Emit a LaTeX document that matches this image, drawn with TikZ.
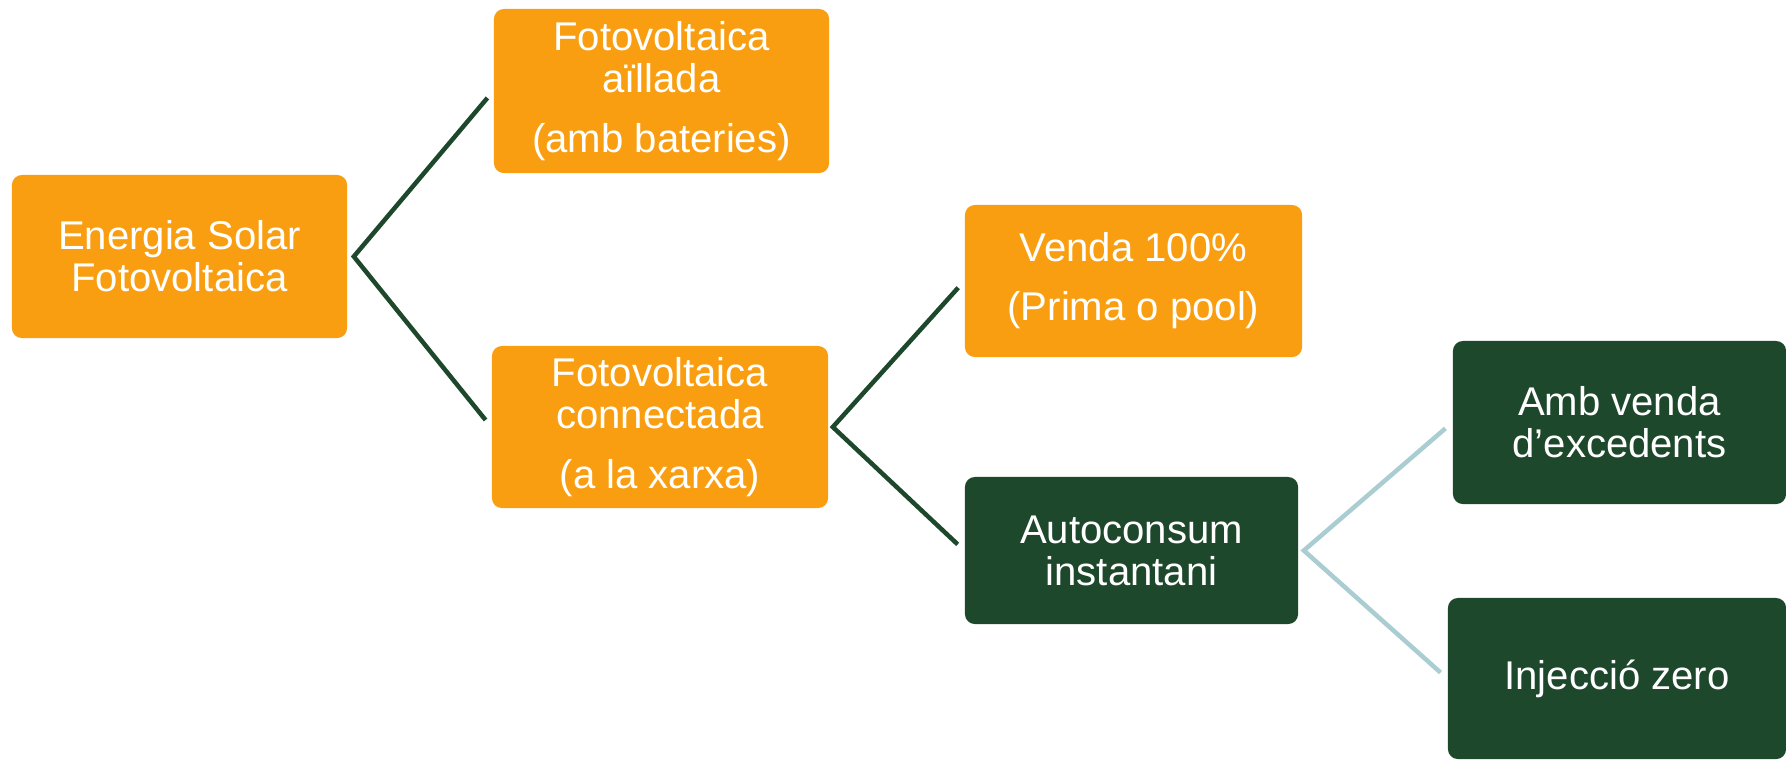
\documentclass[tikz,border=0pt]{standalone}
\usepackage{fontspec}
\setmainfont{Liberation Sans}
\definecolor{taronja}{RGB}{249,158,17}
\definecolor{verdfosc}{RGB}{29,72,44}
\definecolor{blaulinia}{RGB}{170,205,210}
\tikzset{
	caixa/.style={rounded corners=0.1cm, inner sep=0pt, align=center, text=white,
		font=\fontsize{11.4}{12}\selectfont},
	caixataronja/.style={caixa, fill=taronja},
	caixaverda/.style={caixa, fill=verdfosc},
	branca/.style={line width=0.045cm, color=verdfosc, shorten <=0.09cm, shorten >=0.09cm},
	brancaclara/.style={branca, color=blaulinia}
}

\begin{document}
\begin{tikzpicture}[x=0.01cm, y=-0.01cm]
		%%%%% START %%%%%
		
		\useasboundingbox (0, 0) rectangle (1786, 759);
		
		\node[caixataronja, minimum width=3.35cm, minimum height=1.63cm] (energia) at (179.5, 256.5) {Energia Solar\\Fotovoltaica};
		
		\node[caixataronja, minimum width=3.35cm, minimum height=1.64cm] (aillada) at (661.5, 91) {Fotovoltaica\\aïllada\\[0.17cm](amb bateries)};
		\node[caixataronja, minimum width=3.36cm, minimum height=1.62cm] (connectada) at (660, 427) {Fotovoltaica\\connectada\\[0.17cm](a la xarxa)};
		
		\node[caixataronja, minimum width=3.37cm, minimum height=1.52cm] (venda) at (1133.5, 281) {Venda 100\%\\[0.17cm](Prima o pool)};
		\node[caixaverda, minimum width=3.33cm, minimum height=1.47cm] (autoconsum) at (1131.5, 550.5) {Autoconsum\\instantani};
		
		\node[caixaverda, minimum width=3.33cm, minimum height=1.63cm] (excedents) at (1619.5, 422.5) {Amb venda\\d’excedents};
		\node[caixaverda, minimum width=3.38cm, minimum height=1.61cm] (zero) at (1617, 678.5) {Injecció zero};
		
		% vertices of the branches
		\coordinate (vertex1) at ([xshift=0.06cm]energia.east);
		\coordinate (vertex2) at ([xshift=0.04cm]connectada.east);
		\coordinate (vertex3) at ([xshift=0.05cm]autoconsum.east);
		
		\draw[branca] (aillada.west) -- (vertex1) -- (connectada.west);
		\draw[branca] (venda.west) -- (vertex2) -- (autoconsum.west);
		\draw[brancaclara] (excedents.west) -- (vertex3) -- (zero.west);
		
		%%%%% END %%%%%
	\end{tikzpicture}
\end{document}
